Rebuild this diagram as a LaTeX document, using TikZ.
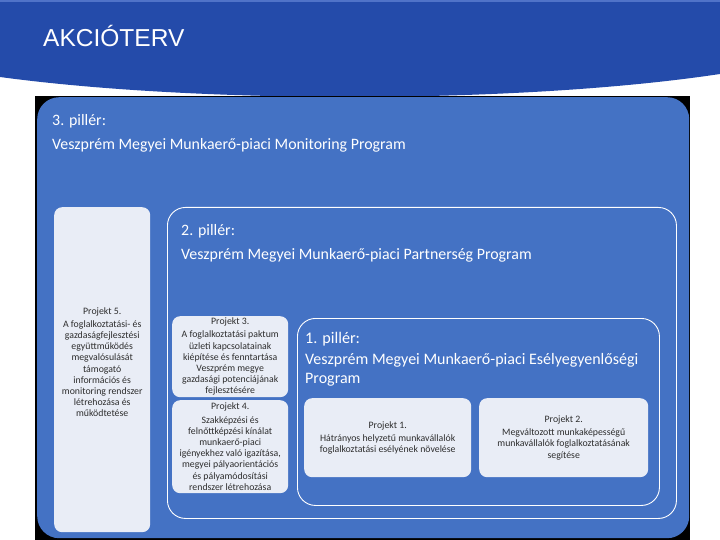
\documentclass[tikz,border=0pt]{standalone}
\usepackage{fontspec}
\setmainfont{Carlito}
\newfontfamily\titlefont{Liberation Sans}
\usetikzlibrary{calc,positioning}
\definecolor{hdrblue}{RGB}{36,75,170}
\definecolor{hdrline}{RGB}{80,115,200}
\definecolor{boxblue}{RGB}{68,114,196}
\definecolor{projfill}{RGB}{233,237,246}
\definecolor{projtext}{RGB}{45,45,45}

\begin{document}
\begin{tikzpicture}[x=1pt,y=-1pt,
  pillar/.style={draw=white,line width=0.9pt,rounded corners=18pt,anchor=north west,inner sep=0pt},
  projbox/.style={fill=projfill,rounded corners=8pt,anchor=north west,inner sep=0pt,align=center,
    text=projtext,font=\fontsize{9.8}{11.2}\selectfont},
  head/.style={anchor=base west,inner sep=0pt,text=white,font=\fontsize{15.9}{19}\selectfont}]
\useasboundingbox (0,0) rectangle (720,540);
% header band
\fill[hdrblue] (0,0) -- (720,0) -- (720,74) .. controls (520,104) and (200,104) .. (0,77) -- cycle;
\fill[hdrline] (0,0) rectangle (720,2);
\node[anchor=base west,inner sep=0pt,text=white,font=\titlefont\fontsize{24.5}{28}\selectfont] (title) at (43,47) {AKCIÓTERV};
% picture frame
\fill[black] (35,96) rectangle (690,540);
\node[fill=boxblue,rounded corners=22pt,anchor=north west,minimum width=652pt,minimum height=441pt,inner sep=0pt] (pil3) at (37,97) {};
\node[head] (pil3lbl) at ($(pil3.north west)+(15,29)$) {3. pillér:};
\node[head] (pil3name) at ($(pil3.north west)+(15,53)$) {Veszprém Megyei Munkaerő-piaci Monitoring Program};
% pillars 2 and 1
\node[pillar,minimum width=509pt,minimum height=311pt] (pil2) at (167,207) {};
\node[head] (pil2lbl) at ($(pil2.north west)+(14,29)$) {2. pillér:};
\node[head] (pil2name) at ($(pil2.north west)+(14,52)$) {Veszprém Megyei Munkaerő-piaci Partnerség Program};
\node[pillar,minimum width=362pt,minimum height=187pt] (pil1) at (297,318) {};
\node[head,font=\fontsize{16.2}{19}\selectfont] (pil1lbl) at ($(pil1.north west)+(8,25)$) {1. pillér:};
\node[head,font=\fontsize{16}{19}\selectfont,align=left,anchor=north west] (pil1name) at ($(pil1.north west)+(8,35)$)
  {Veszprém Megyei Munkaerő-piaci Esélyegyenlőségi\\Program};
% projects
\node[projbox,minimum width=96pt,minimum height=325pt] (proj5) at (54,207)
  {Projekt 5.\\[2pt] A foglalkoztatási- és\\ gazdaságfejlesztési\\ együttműködés\\ megvalósulását\\ támogató\\ információs és\\ monitoring rendszer\\ létrehozása és\\ működtetése\\[4pt]};
\node[projbox,minimum width=116pt,minimum height=81pt] (proj3) at (172,316)
  {Projekt 3.\\[2pt] A foglalkoztatási paktum\\ üzleti kapcsolatainak\\ kiépítése és fenntartása\\ Veszprém megye\\ gazdasági potenciájának\\ fejlesztésére};
\node[projbox,minimum width=116pt,minimum height=93pt] (proj4) at (172,400)
  {Projekt 4.\\[2pt] Szakképzési és\\ felnőttképzési kínálat\\ munkaerő-piaci\\ igényekhez való igazítása,\\ megyei pályaorientációs\\ és pályamódosítási\\ rendszer létrehozása};
\node[projbox,minimum width=167pt,minimum height=79pt] (proj1) at (304,398)
  {Projekt 1.\\[2pt] Hátrányos helyzetű munkavállalók\\ foglalkoztatási esélyének növelése};
\node[projbox,minimum width=169pt,minimum height=79pt] (proj2) at (479,398)
  {Projekt 2.\\[2pt] Megváltozott munkaképességű\\ munkavállalók foglalkoztatásának\\ segítése};
\end{tikzpicture}
\end{document}
